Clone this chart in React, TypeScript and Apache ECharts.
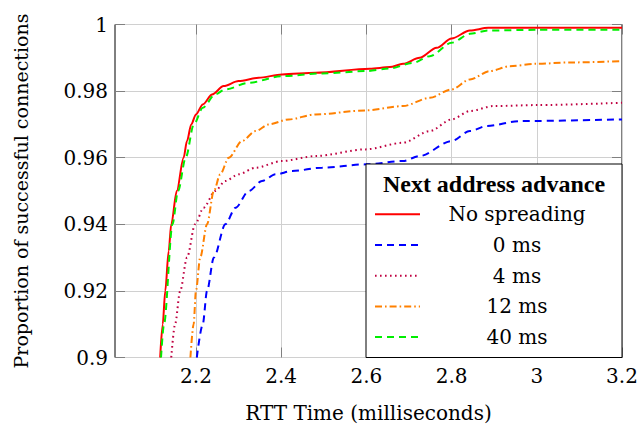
import React, { useEffect, useRef } from "react";
import * as echarts from "echarts";

const seriesNames = ["No spreading", "0 ms", "4 ms", "12 ms", "40 ms"];

const noSpreadX = [2.116, 2.122, 2.128, 2.136, 2.142, 2.155, 2.171, 2.179, 2.189, 2.2, 2.216, 2.238, 2.265, 2.3, 2.347, 2.402, 2.481, 2.608, 2.655, 2.686, 2.725, 2.765, 2.8, 2.843, 2.886, 3.0, 3.2];
const noSpreadY = [0.9, 0.91, 0.92, 0.932, 0.94, 0.95, 0.96, 0.965, 0.97, 0.973, 0.976, 0.979, 0.9815, 0.983, 0.984, 0.985, 0.9855, 0.9867, 0.9872, 0.9882, 0.99, 0.993, 0.9958, 0.9982, 0.999, 0.999, 0.999];

const ms0X = [2.202, 2.216, 2.226, 2.242, 2.269, 2.293, 2.324, 2.355, 2.387, 2.426, 2.496, 2.598, 2.686, 2.725, 2.8, 2.843, 2.882, 2.961, 3.2];
const ms0Y = [0.9, 0.91, 0.92, 0.93, 0.94, 0.945, 0.95, 0.953, 0.955, 0.956, 0.957, 0.958, 0.959, 0.9605, 0.965, 0.968, 0.9695, 0.971, 0.9715];

const ms4X = [2.142, 2.151, 2.163, 2.179, 2.198, 2.218, 2.245, 2.269, 2.3, 2.34, 2.402, 2.481, 2.598, 2.686, 2.749, 2.8, 2.843, 2.898, 3.0, 3.2];
const ms4Y = [0.9, 0.91, 0.92, 0.93, 0.94, 0.945, 0.95, 0.953, 0.955, 0.957, 0.959, 0.9605, 0.9625, 0.9645, 0.968, 0.9715, 0.974, 0.9755, 0.9758, 0.9765];

const ms12X = [2.187, 2.1945, 2.2, 2.21, 2.226, 2.242, 2.257, 2.277, 2.308, 2.34, 2.371, 2.418, 2.481, 2.598, 2.686, 2.749, 2.8, 2.843, 2.89, 2.937, 3.0, 3.078, 3.2];
const ms12Y = [0.9, 0.91, 0.92, 0.93, 0.94, 0.95, 0.955, 0.96, 0.965, 0.968, 0.97, 0.9715, 0.973, 0.9742, 0.9755, 0.978, 0.9805, 0.9835, 0.986, 0.9875, 0.9882, 0.9886, 0.989];

const ms40X = [2.118, 2.125, 2.145, 2.158, 2.176, 2.195, 2.216, 2.245, 2.269, 2.324, 2.402, 2.496, 2.598, 2.655, 2.71, 2.749, 2.8, 2.843, 2.886, 3.0, 3.2];
const ms40Y = [0.9, 0.91, 0.94, 0.95, 0.96, 0.97, 0.975, 0.979, 0.9805, 0.9825, 0.9845, 0.9853, 0.986, 0.9868, 0.9885, 0.9905, 0.9945, 0.9972, 0.9982, 0.9984, 0.9984];

const xTicks = [2.2, 2.4, 2.6, 2.8, 3.0, 3.2];

const FONT = "DejaVu Serif, serif";
const BOLD_FONT = "Liberation Serif, serif";
const FS = 20;

const zip = (xs: number[], ys: number[]) => xs.map((x, i) => [x, ys[i]]);

const styles = [
  { color: "#ff0000", type: "solid" as any },
  { color: "#0000ff", type: [7, 5] as any },
  { color: "#bf0040", type: [1.6, 3.4] as any },
  { color: "#ff8000", type: [7, 3, 1.6, 3] as any },
  { color: "#00ee00", type: [7, 5] as any },
];

const seriesData = [
  zip(noSpreadX, noSpreadY),
  zip(ms0X, ms0Y),
  zip(ms4X, ms4Y),
  zip(ms12X, ms12Y),
  zip(ms40X, ms40Y),
];

const fmt = (v: number) => String(Math.round(v * 100) / 100);

export default function App() {
  const ref = useRef<HTMLDivElement>(null);
  useEffect(() => {
    if (!ref.current) return;
    const chart = echarts.init(ref.current, null, { renderer: "svg" });

    const legendLeft = 366;
    const legendTop = 164;
    const legendRight = 622;
    const legendBottom = 357.5;
    const rowY0 = 214.3;
    const rowStep = 30.7;
    const textCx = 517;

    const legendEls: any[] = [
      {
        type: "rect",
        z: 100,
        shape: { x: legendLeft, y: legendTop, width: legendRight - legendLeft, height: legendBottom - legendTop },
        style: { fill: "#fff", stroke: "#000", lineWidth: 1 },
      },
      {
        type: "text",
        z: 101,
        x: (legendLeft + legendRight) / 2,
        y: 183.5,
        style: {
          text: "Next address advance",
          fontFamily: BOLD_FONT,
          fontSize: 24,
          fontWeight: "bold",
          fill: "#000",
          align: "center",
          verticalAlign: "middle",
        },
      },
    ];
    seriesNames.forEach((name, i) => {
      const y = rowY0 + i * rowStep;
      legendEls.push({
        type: "line",
        z: 101,
        shape: { x1: 375, y1: y, x2: 420, y2: y },
        style: { stroke: styles[i].color, lineWidth: 2, lineDash: styles[i].type === "solid" ? null : styles[i].type },
      });
      legendEls.push({
        type: "text",
        z: 101,
        x: textCx,
        y,
        style: {
          text: name,
          fontFamily: FONT,
          fontSize: FS,
          fill: "#000",
          align: "center",
          verticalAlign: "middle",
        },
      });
    });

    const option: any = {
      animation: false,
      grid: {
        left: 115,
        right: 17,
        top: 24.5,
        bottom: 67.5,
        outerBoundsMode: "none",
        containLabel: false,
        show: true,
        borderColor: "#000",
        borderWidth: 1,
        backgroundColor: "transparent",
      },
      xAxis: [
        {
          type: "value",
          min: 2.01,
          max: 3.2,
          position: "bottom",
          axisLine: { show: false },
          axisTick: {
            show: true,
            inside: true,
            length: 10,
            customValues: xTicks,
            lineStyle: { color: "#808080", width: 1 },
          },
          axisLabel: {
            customValues: xTicks,
            formatter: (v: number) => fmt(v),
            fontFamily: FONT,
            fontSize: FS,
            color: "#000",
            margin: 8,
          },
          splitLine: { show: true, lineStyle: { color: "#d0d0d0", width: 1 } },
          name: "RTT Time (milliseconds)",
          nameLocation: "middle",
          nameGap: 45,
          nameTextStyle: { fontFamily: FONT, fontSize: FS, color: "#000" },
        },
        {
          type: "value",
          min: 2.01,
          max: 3.2,
          position: "top",
          axisLine: { show: false },
          axisTick: {
            show: true,
            inside: true,
            length: 10,
            customValues: xTicks,
            lineStyle: { color: "#808080", width: 1 },
          },
          axisLabel: { show: false },
          splitLine: { show: false },
        },
      ],
      yAxis: [
        {
          type: "value",
          min: 0.9,
          max: 1,
          interval: 0.02,
          position: "left",
          axisLine: { show: false },
          axisTick: { show: true, inside: true, length: 10, lineStyle: { color: "#808080", width: 1 } },
          axisLabel: {
            formatter: (v: number) => fmt(v),
            fontFamily: FONT,
            fontSize: FS,
            color: "#000",
            margin: 7,
          },
          splitLine: { show: true, lineStyle: { color: "#d0d0d0", width: 1 } },
          name: "Proportion of successful connections",
          nameLocation: "middle",
          nameGap: 85,
          nameTextStyle: { fontFamily: FONT, fontSize: 19, color: "#000" },
        },
        {
          type: "value",
          min: 0.9,
          max: 1,
          interval: 0.02,
          position: "right",
          axisLine: { show: false },
          axisTick: { show: true, inside: true, length: 10, lineStyle: { color: "#808080", width: 1 } },
          axisLabel: { show: false },
          splitLine: { show: false },
        },
      ],
      series: seriesData.map((data, i) => ({
        name: seriesNames[i],
        type: "line",
        xAxisIndex: 0,
        yAxisIndex: 0,
        data,
        showSymbol: false,
        symbol: "none",
        smooth: 0.3,
        smoothMonotone: "x",
        clip: true,
        lineStyle: { color: styles[i].color, width: 2, type: styles[i].type },
        z: 2 + i,
      })),
      graphic: legendEls,
    };
    chart.setOption(option);
    return () => chart.dispose();
  }, []);
  return <div ref={ref} style={{ width: 639, height: 425, position: "absolute", left: 0, top: 0 }} />;
}
